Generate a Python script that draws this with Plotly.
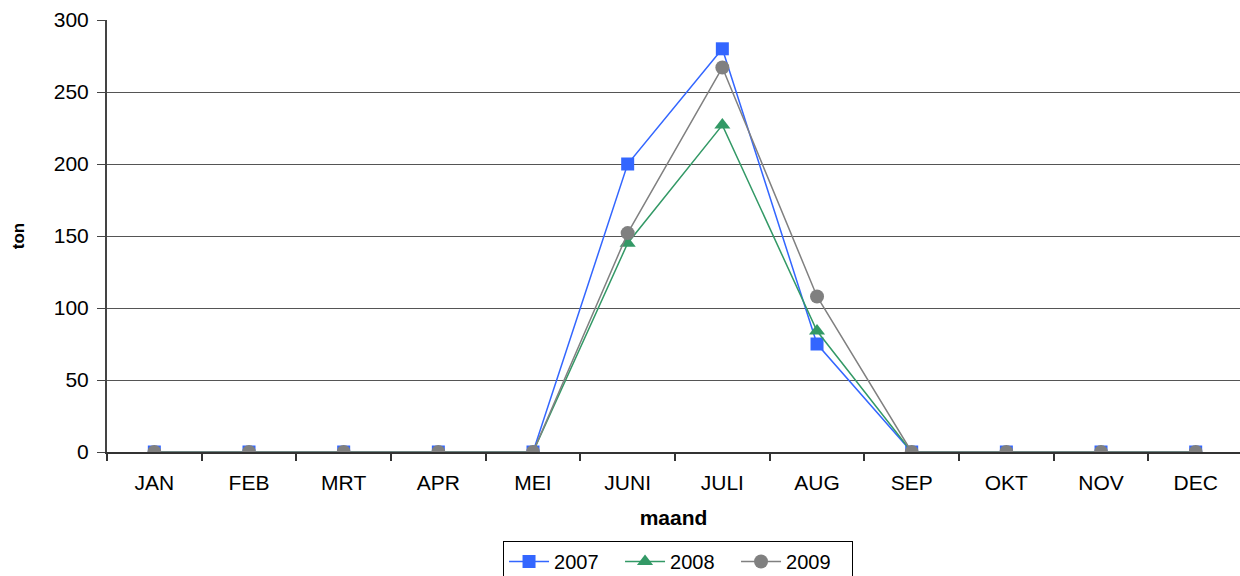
import plotly.graph_objects as go

months = ["JAN", "FEB", "MRT", "APR", "MEI", "JUNI", "JULI", "AUG", "SEP", "OKT", "NOV", "DEC"]
y2007 = [0, 0, 0, 0, 0, 200, 280, 75, 0, 0, 0, 0]
y2008 = [0, 0, 0, 0, 0, 145, 227, 84, 0, 0, 0, 0]
y2009 = [0, 0, 0, 0, 0, 152, 267, 108, 0, 0, 0, 0]
y_ticks = [0, 50, 100, 150, 200, 250, 300]

FONT = "Liberation Sans, Arial, sans-serif"

fig = go.Figure()
series = [
    ("2007", y2007, "#3366FF", "square", 13),
    ("2008", y2008, "#339966", "triangle-up", 14),
    ("2009", y2009, "#808080", "circle", 14),
]
for name, vals, col, sym, sz in series:
    fig.add_trace(go.Scatter(
        x=months, y=vals, name=name, mode="lines+markers",
        line=dict(color=col, width=1.5),
        marker=dict(symbol=sym, size=sz, color=col, line=dict(width=0)),
    ))

fig.update_layout(
    width=1240, height=576,
    margin=dict(l=107, r=0, t=20, b=124, pad=0),
    paper_bgcolor="white", plot_bgcolor="white",
    font=dict(family=FONT, size=21, color="black"),
    showlegend=True,
    legend=dict(
        orientation="h", x=0.504, xanchor="center",
        yref="container", y=1 - 541 / 576, yanchor="top",
        bordercolor="black", borderwidth=1, font=dict(size=20),
        itemwidth=40, tracegroupgap=0,
        entrywidth=61, entrywidthmode="pixels",
    ),
)
fig.update_xaxes(
    type="category", categoryorder="array", categoryarray=months,
    range=[-0.5, 11.468],
    tickson="boundaries", ticks="outside", ticklen=7, tickcolor="#333333", tickwidth=1.5,
    showline=True, linecolor="#333333", linewidth=2,
    showgrid=False, zeroline=False,
    tickfont=dict(size=21), ticklabelstandoff=11,
    title=dict(text="<b>maand</b>", font=dict(size=21), standoff=17),
)
fig.update_yaxes(
    range=[0, 300], tickvals=y_ticks,
    ticks="outside", ticklen=8, tickcolor="#444444", tickwidth=1,
    showline=True, linecolor="#444444", linewidth=2,
    showgrid=True, gridcolor="#555555", gridwidth=1,
    zeroline=False,
    tickfont=dict(size=21), ticklabelstandoff=4,
    title=dict(text="<b>ton</b>", font=dict(size=17), standoff=25),
)

# remove the default 8px page margin so the figure fills the window exactly
fig.write_html(
    "out.html",
    config={"displayModeBar": False},
    post_script="document.body.style.margin='0';document.body.style.overflow='hidden';",
)
